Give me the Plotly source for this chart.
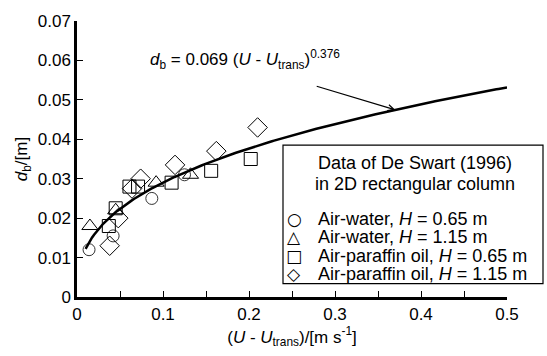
import numpy as np
import plotly.graph_objects as go

# ---- data ----
aw065_x = [0.014, 0.042, 0.087, 0.125]
aw065_y = [0.012, 0.0155, 0.025, 0.031]
aw115_x = [0.015, 0.045, 0.092, 0.132]
aw115_y = [0.018, 0.022, 0.029, 0.031]
ap065_x = [0.037, 0.045, 0.061, 0.071, 0.110, 0.156, 0.202]
ap065_y = [0.018, 0.0225, 0.028, 0.028, 0.029, 0.032, 0.035]
ap115_x = [0.038, 0.048, 0.064, 0.074, 0.114, 0.162, 0.210]
ap115_y = [0.013, 0.020, 0.0275, 0.030, 0.0335, 0.037, 0.043]

coef = 0.069
expo = 0.376
fit_x = np.linspace(0.01, 0.5, 200)
fit_y = coef * fit_x ** expo

x_ticks = [0, 0.1, 0.2, 0.3, 0.4, 0.5]
x_ticklabels = ["0", "0.1", "0.2", "0.3", "0.4", "0.5"]
y_ticks = [0, 0.01, 0.02, 0.03, 0.04, 0.05, 0.06, 0.07]
y_ticklabels = ["0", "0.01", "0.02", "0.03", "0.04", "0.05", "0.06", "0.07"]

legend_title = ["Data of De Swart (1996)", "in 2D rectangular column"]
legend_names = ["Air-water, <i>H</i> = 0.65 m", "Air-water, <i>H</i> = 1.15 m",
                "Air-paraffin oil, <i>H</i> = 0.65 m", "Air-paraffin oil, <i>H</i> = 1.15 m"]
legend_glyphs = ["○", "△", "□", "◇"]

FONT = "Liberation Sans, Arial, sans-serif"
W, H = 547, 356
L, R, T, B = 77, 40, 16, 53
PW, PH = W - L - R, H - T - B

def px(x):
    return (x - L) / PW

def py(y):
    return (H - B - y) / PH

fig = go.Figure()
mk = dict(color="black", size=13, line=dict(color="black", width=1))
fig.add_trace(go.Scatter(x=aw065_x, y=aw065_y, mode="markers",
                         marker=dict(symbol="circle-open", size=12, color="#333", line=dict(width=1))))
fig.add_trace(go.Scatter(x=aw115_x, y=aw115_y, mode="markers",
                         marker=dict(symbol="triangle-up-open", size=14, color="black", line=dict(width=1))))
fig.add_trace(go.Scatter(x=ap065_x, y=ap065_y, mode="markers",
                         marker=dict(symbol="square-open", size=13, color="black", line=dict(width=1))))
fig.add_trace(go.Scatter(x=ap115_x, y=ap115_y, mode="markers",
                         marker=dict(symbol="diamond-open", size=15, color="black", line=dict(width=1))))
fig.add_trace(go.Scatter(x=fit_x, y=fit_y, mode="lines",
                         line=dict(color="black", width=2.5)))

annotations = []
# formula
annotations.append(dict(
    text="<i>d</i><sub>b</sub> = 0.069 (<i>U</i> - <i>U</i><sub>trans</sub>)<sup>0.376</sup>",
    xref="paper", yref="paper", x=px(148), y=py(56), xanchor="left", yanchor="middle",
    showarrow=False, font=dict(family=FONT, size=17, color="black")))
# arrow
ax_x = 0.37
annotations.append(dict(
    text="", x=ax_x, y=coef * ax_x ** expo, xref="x", yref="y",
    showarrow=True, arrowhead=5, arrowsize=1, arrowwidth=1.2, arrowcolor="black",
    ax=-80, ay=-24, standoff=0))
# legend box content
for i, t in enumerate(legend_title):
    annotations.append(dict(text=t, xref="paper", yref="paper", x=px(415), y=py(164 + 22 * i),
                            xanchor="center", yanchor="middle", showarrow=False,
                            font=dict(family=FONT, size=18, color="black")))
for i, (g, n) in enumerate(zip(legend_glyphs, legend_names)):
    yy = 222 + 19 * i
    annotations.append(dict(text=g, xref="paper", yref="paper", x=px(294), y=py(yy),
                            xanchor="center", yanchor="middle", showarrow=False,
                            font=dict(family="DejaVu Sans", size=17, color="black")))
    annotations.append(dict(text=n, xref="paper", yref="paper", x=px(316), y=py(yy),
                            xanchor="left", yanchor="middle", showarrow=False,
                            font=dict(family=FONT, size=18, color="black")))

fig.update_layout(
    width=W, height=H,
    margin=dict(l=L, r=R, t=T, b=B),
    paper_bgcolor="white", plot_bgcolor="white",
    showlegend=False,
    font=dict(family=FONT, size=17, color="black"),
    annotations=annotations,
    shapes=[dict(type="rect", xref="paper", yref="paper",
                 x0=px(283), x1=px(543), y0=py(289), y1=py(145),
                 line=dict(color="black", width=1.2), fillcolor="rgba(0,0,0,0)")],
)
fig.update_xaxes(range=[0, 0.5], tickvals=x_ticks, ticktext=x_ticklabels,
                 ticks="inside", ticklen=6, tickwidth=1.2, tickcolor="black",
                 minor=dict(dtick=0.05, ticks="inside", ticklen=6, tickwidth=1.2, tickcolor="black"),
                 showline=True, linecolor="black", linewidth=2.5, showgrid=False, zeroline=False,
                 title=dict(text="(<i>U</i> - <i>U</i><sub>trans</sub>)/[m s<sup>-1</sup>]", standoff=8,
                            font=dict(size=17)),
                 tickfont=dict(size=17))
fig.update_yaxes(range=[0, 0.07], tickvals=y_ticks, ticktext=y_ticklabels,
                 ticks="inside", ticklen=6, tickwidth=1.2, tickcolor="black",
                 showline=True, linecolor="black", linewidth=2.5, showgrid=False, zeroline=False,
                 title=dict(text="<i>d</i><sub>b</sub>/[m]", standoff=6, font=dict(size=17)),
                 tickfont=dict(size=17))

fig.write_html("out.html")
